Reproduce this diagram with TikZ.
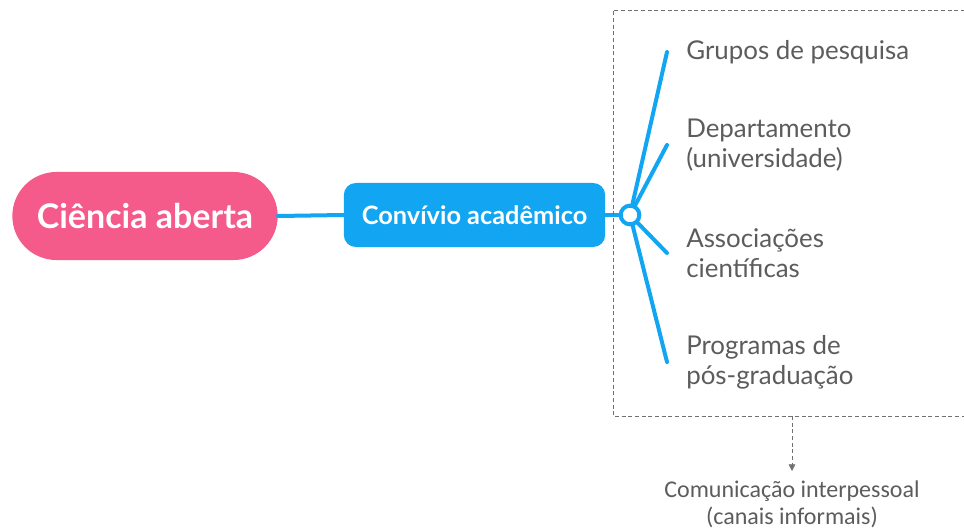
\documentclass[tikz,border=0pt]{standalone}
\usepackage{fontspec}
\setmainfont{Lato}
\newfontfamily\calibrilike{Carlito}
\usepackage{xcolor}
\usetikzlibrary{arrows.meta}
\definecolor{mappink}{HTML}{F45A8A}
\definecolor{mapblue}{HTML}{12A6F2}
\definecolor{labelgray}{HTML}{5C5C5C}
\definecolor{boxgray}{HTML}{707070}

\begin{document}
\begin{tikzpicture}[x=0.75pt,y=-0.75pt,
  every node/.style={inner sep=0pt},
  branch/.style={draw=mapblue,line width=3pt,line cap=round},
  leaf/.style={anchor=west,align=left,text=labelgray,font=\fontsize{19.4}{22.5}\selectfont}]
  \useasboundingbox (0,0) rectangle (964,531);
  % main nodes
  \node [fill=mappink,rounded corners=33pt,minimum width=199pt,minimum height=66pt,
    text=white,font=\bfseries\fontsize{25.5}{30}\selectfont](ciencia) at (145,216) {Ciência aberta};
  \node [fill=mapblue,rounded corners=9pt,minimum width=196pt,minimum height=48pt,
    text=white,font=\bfseries\fontsize{19}{23}\selectfont](convivio) at (474.5,215) {Convívio acadêmico};
  \coordinate (hub) at (630,215);
  % leaves
  \node [leaf](grupos) at (686,52) {Grupos de pesquisa};
  \node [leaf](depto) at (686,145) {Departamento\\(universidade)};
  \node [leaf](assoc) at (686,253) {Associações\\científicas};
  \node [leaf](programas) at (686,362) {Programas de\\pós-graduação};
  \coordinate (grupos end) at (667,52);
  \coordinate (depto end) at (667,145);
  \coordinate (assoc end) at (667,253);
  \coordinate (programas end) at (667,362);
  % connectors
  \draw [branch] (ciencia.east) -- (convivio.west);
  \draw [branch] (convivio.east) -- (hub);
  \draw [branch] (hub) -- (grupos end);
  \draw [branch] (hub) -- (depto end);
  \draw [branch] (hub) -- (assoc end);
  \draw [branch] (hub) -- (programas end);
  \draw [draw=mapblue,line width=3pt,fill=white] (hub) circle (7pt);
  % dashed group
  \coordinate (box tr) at (965,10);
  \coordinate (box tl) at (613,10);
  \coordinate (box bl) at (613,416);
  \coordinate (box br) at (965,416);
  \coordinate (box out) at (792,416);
  \draw [boxgray,densely dashed,line width=0.6pt] (box tr) -- (box tl) -- (box bl) -- (box br);
  \node [text=labelgray,align=center,font=\calibrilike\fontsize{18}{20}\selectfont,anchor=north]
    (comunicacao) at (792,481) {Comunicação interpessoal\\(canais informais)};
  \coordinate (arrow tip) at (792,471);
  \draw [boxgray,densely dashed,line width=0.6pt,-{Triangle[width=5pt,length=5pt]}] (box out) -- (arrow tip);
\end{tikzpicture}
\end{document}
